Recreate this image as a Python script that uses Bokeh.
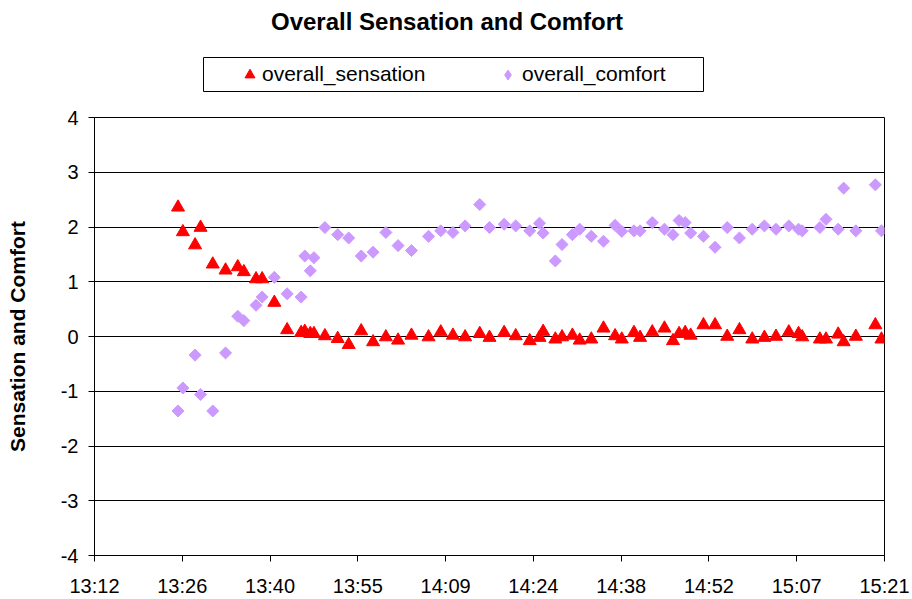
import numpy as np
import pandas as pd
from bokeh.plotting import figure
from bokeh.layouts import column
from bokeh.models import (Legend, LegendItem, Label, FixedTicker, BoxAnnotation,
                          DatetimeTickFormatter, Range1d, ColumnDataSource)
from bokeh.embed import file_html
from bokeh.resources import INLINE

# ---------------- data ----------------
times = ["13:25:42", "13:26:30", "13:28:30", "13:29:24", "13:31:24", "13:33:30",
         "13:35:30", "13:36:30", "13:38:30", "13:39:30", "13:41:30", "13:43:36",
         "13:45:54", "13:46:30", "13:47:24", "13:48:00", "13:49:48", "13:51:54",
         "13:53:42", "13:55:45", "13:57:42", "13:59:48", "14:01:48", "14:04:00",
         "14:06:48", "14:08:48", "14:10:48", "14:12:48", "14:15:12", "14:16:48",
         "14:19:12", "14:21:06", "14:23:24", "14:25:00", "14:25:36", "14:27:36",
         "14:28:42", "14:30:24", "14:31:36", "14:33:30", "14:35:30", "14:37:24",
         "14:38:30", "14:40:30", "14:41:30", "14:43:30", "14:45:30", "14:46:54",
         "14:47:54", "14:48:54", "14:49:48", "14:51:54", "14:53:48", "14:55:48",
         "14:57:48", "14:59:54", "15:01:54", "15:03:48", "15:05:54", "15:07:30",
         "15:08:06", "15:11:00", "15:12:00", "15:14:00", "15:14:54", "15:16:54",
         "15:20:06", "15:21:06"]

overall_sensation = [2.36, 1.91, 1.67, 1.99, 1.32, 1.21, 1.27, 1.18, 1.05, 1.05,
                     0.62, 0.12, 0.07, 0.09, 0.05, 0.05, 0.01, -0.04, -0.15, 0.10,
                     -0.10, -0.01, -0.07, 0.02, -0.01, 0.08, 0.02, -0.01, 0.05, -0.02,
                     0.07, 0.01, -0.08, -0.02, 0.09, -0.05, -0.01, 0.02, -0.07, -0.05,
                     0.15, 0.01, -0.05, 0.07, -0.02, 0.08, 0.15, -0.08, 0.05, 0.07,
                     0.02, 0.21, 0.21, 0.00, 0.12, -0.05, -0.02, 0.00, 0.08, 0.05,
                     -0.01, -0.05, -0.05, 0.04, -0.10, 0.00, 0.21, -0.05]

overall_comfort = [-1.36, -0.94, -0.34, -1.06, -1.36, -0.30, 0.37, 0.29, 0.57, 0.72,
                   1.08, 0.78, 0.72, 1.47, 1.20, 1.44, 1.99, 1.86, 1.80, 1.47,
                   1.54, 1.90, 1.66, 1.57, 1.83, 1.93, 1.90, 2.02, 2.41, 1.99,
                   2.05, 2.02, 1.93, 2.07, 1.89, 1.38, 1.68, 1.86, 1.96, 1.83,
                   1.74, 2.03, 1.92, 1.93, 1.93, 2.08, 1.96, 1.86, 2.12, 2.08,
                   1.89, 1.83, 1.63, 1.99, 1.80, 1.96, 2.02, 1.96, 2.02, 1.96,
                   1.93, 1.99, 2.14, 1.96, 2.71, 1.93, 2.77, 1.93]

# axis: Excel-style day fractions 0.55 .. 0.64 (13:12 .. 15:21)
x_tick_days = [0.55, 0.56, 0.57, 0.58, 0.59, 0.60, 0.61, 0.62, 0.63, 0.64]
y_ticks = [-4, -3, -2, -1, 0, 1, 2, 3, 4]

TITLE = "Overall Sensation and Comfort"
Y_LABEL = "Sensation and Comfort"
SERIES = ["overall_sensation", "overall_comfort"]

# ---------------- build ----------------
day = "2000-01-01"
base = pd.Timestamp(day)
t = pd.to_datetime([f"{day} {s}" for s in times])
src = ColumnDataSource(dict(t=t, s=overall_sensation, c=overall_comfort))

def ms(d):
    return (base + pd.Timedelta(days=d)).value / 1e6

FONT = "Liberation Sans"
RED = "#FF0000"
LILAC = "#CC99FF"
W = 912
HEAD_H = 105
MAIN_H = 599 - HEAD_H
FRAME_L, FRAME_R = 94, 884

# ---- main chart ----
p = figure(width=W, height=MAIN_H, x_axis_type="datetime",
           x_range=Range1d(ms(x_tick_days[0]), ms(x_tick_days[-1])),
           y_range=Range1d(y_ticks[0], y_ticks[-1]),
           output_backend="svg", toolbar_location=None,
           min_border_left=FRAME_L, min_border_right=W - FRAME_R,
           min_border_top=12, min_border_bottom=44,
           background_fill_color="white", border_fill_color="white")
p.outline_line_color = "black"
p.outline_line_width = 1

r1 = p.scatter("t", "s", source=src, marker="triangle", size=13,
               fill_color=RED, line_color=RED)
r2 = p.scatter("t", "c", source=src, marker="square", angle=np.pi / 4, size=8.5,
               fill_color=LILAC, line_color=LILAC)

p.xaxis.ticker = FixedTicker(ticks=[ms(d) for d in x_tick_days])
p.xaxis.formatter = DatetimeTickFormatter(minsec="%H:%M", minutes="%H:%M",
                                          hourmin="%H:%M", hours="%H:%M")
p.yaxis.ticker = FixedTicker(ticks=y_ticks)
p.yaxis.major_label_overrides = {v: str(v) for v in y_ticks}
for ax in (p.xaxis[0], p.yaxis[0]):
    ax.axis_line_color = "black"
    ax.major_tick_line_color = "black"
    ax.major_tick_in = 0
    ax.major_tick_out = 6
    ax.minor_tick_line_color = None
    ax.major_label_text_font = FONT
    ax.major_label_text_font_size = "20px"
    ax.major_label_text_color = "black"
p.xaxis.major_label_standoff = 13
p.yaxis.major_label_standoff = 10

p.yaxis.axis_label = Y_LABEL
p.yaxis.axis_label_text_font = FONT
p.yaxis.axis_label_text_font_size = "21px"
p.yaxis.axis_label_text_font_style = "bold"
p.yaxis.axis_label_text_color = "black"
p.yaxis.axis_label_standoff = 29

p.xgrid.grid_line_color = None
p.ygrid.grid_line_color = "black"
p.ygrid.grid_line_width = 1

# ---- header: title + legend (its frame is aligned with the chart's frame) ----
h = figure(width=W, height=HEAD_H, x_range=Range1d(FRAME_L, FRAME_R),
           y_range=Range1d(HEAD_H, 0),
           output_backend="svg", toolbar_location=None,
           x_axis_location=None, y_axis_location=None,
           min_border=0, background_fill_color="white", border_fill_color="white")
h.outline_line_color = None
h.xgrid.grid_line_color = None
h.ygrid.grid_line_color = None

h.add_layout(Label(x=446.5, y=21, text=TITLE, text_font=FONT,
                   text_font_size="24px", text_font_style="bold",
                   text_align="center", text_baseline="middle", text_color="black"))

# legend frame
h.add_layout(BoxAnnotation(left=203, right=703, top=57, bottom=91,
                           fill_color="white", fill_alpha=1,
                           line_color="black", line_width=1, line_alpha=1))

# legend glyph renderers (share the data; they fall outside this header's range)
d1 = h.scatter("t", "s", source=src, marker="triangle",
               fill_color=RED, line_color=RED)
d2 = h.scatter("t", "c", source=src, marker="diamond",
               fill_color=LILAC, line_color=LILAC)

def make_legend(item, x_canvas, gw, standoff):
    return Legend(items=[item], orientation="horizontal",
                  location=(x_canvas - FRAME_L, HEAD_H - 86.5),
                  padding=0, spacing=0, margin=0,
                  glyph_width=gw, glyph_height=25, label_height=25,
                  label_standoff=standoff,
                  label_text_font=FONT, label_text_font_size="21px",
                  label_text_color="black", label_text_baseline="middle",
                  border_line_color=None, background_fill_alpha=0)

h.add_layout(make_legend(LegendItem(label=SERIES[0], renderers=[d1]), 237, 25, 0))
h.add_layout(make_legend(LegendItem(label=SERIES[1], renderers=[d2]), 495, 25, 2))

layout = column(h, p, spacing=0)
open("out.html", "w").write(file_html(layout, INLINE))
